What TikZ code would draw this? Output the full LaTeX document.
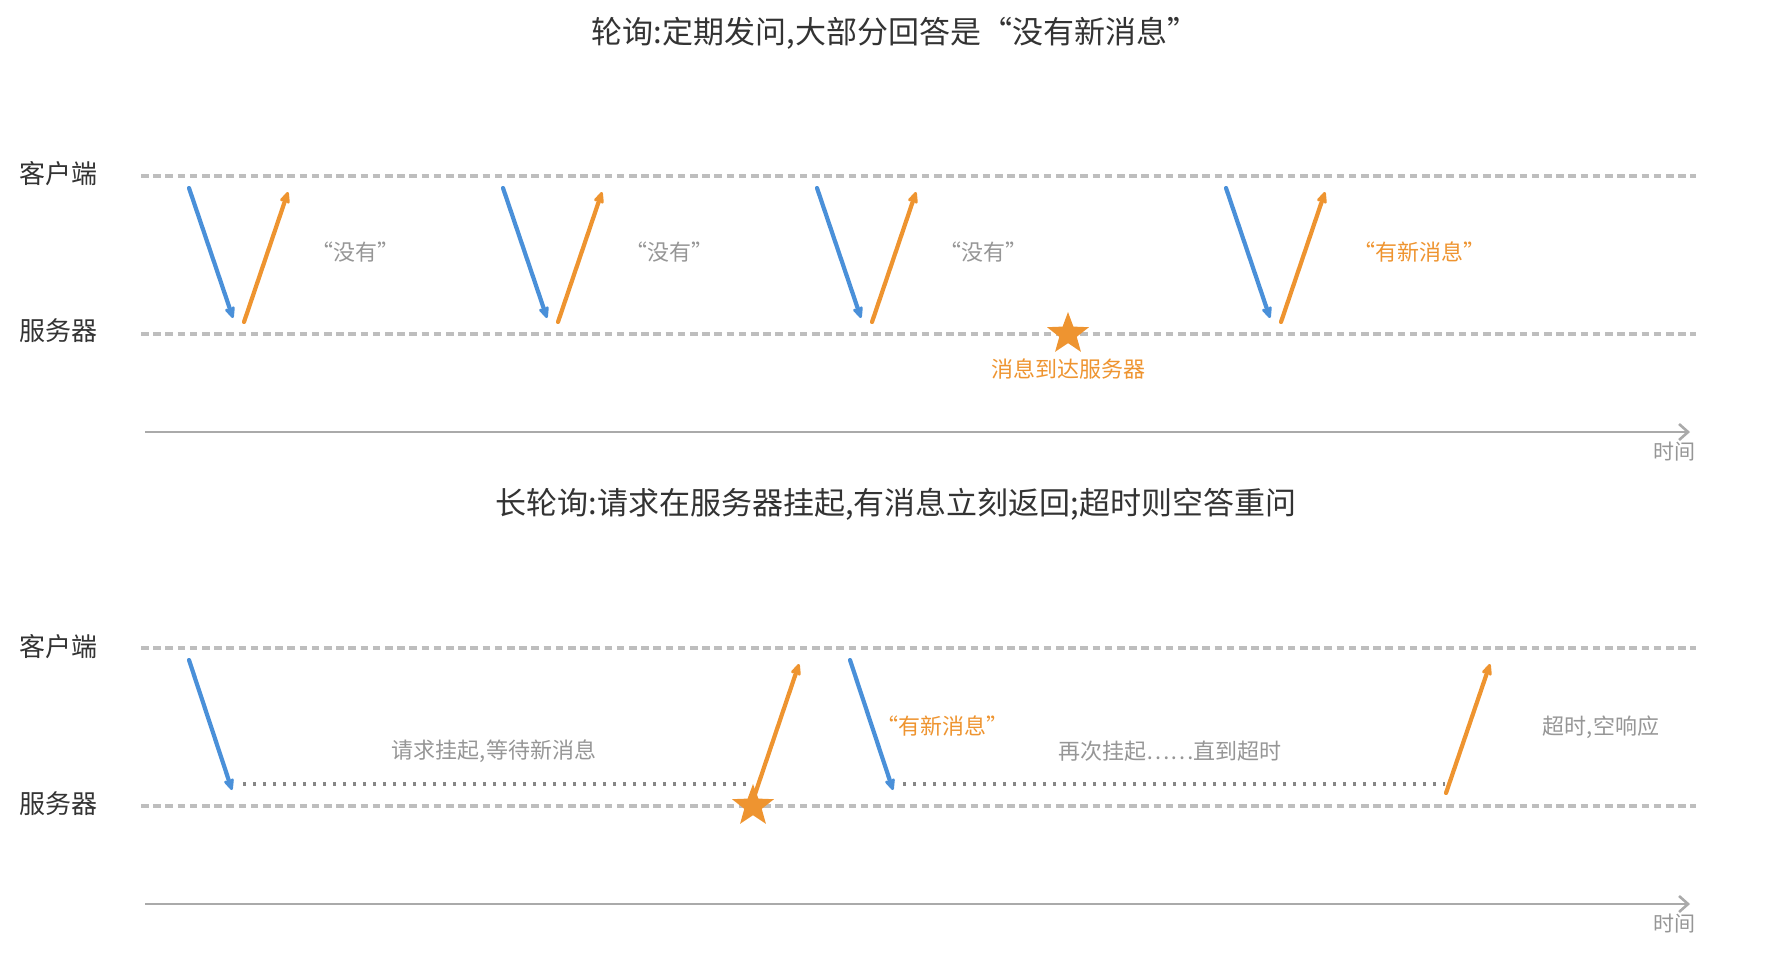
\documentclass[tikz,border=0pt]{standalone}
\usepackage{fontspec}
\setmainfont{Noto Sans CJK SC}
\usepackage{xcolor}
\usetikzlibrary{arrows.meta,shapes.geometric,positioning}
\definecolor{reqblue}{RGB}{74,144,217}
\definecolor{resporange}{RGB}{238,148,48}
\definecolor{lanegray}{RGB}{190,190,190}
\definecolor{notegray}{RGB}{150,150,150}
\definecolor{holdgray}{RGB}{135,135,135}
\definecolor{axisgray}{RGB}{170,170,170}
\definecolor{darktext}{RGB}{51,51,51}

\begin{document}
\begin{tikzpicture}[
    x=0.5pt,
    y=-0.5pt,
    font=\fontsize{11pt}{13pt}\selectfont,
    title/.style={
		font=\fontsize{15.5pt}{18pt}\selectfont,
		text=darktext
	},
	side/.style={
		font=\fontsize{13pt}{16pt}\selectfont,
		text=darktext
	},
	note/.style={
		text=notegray
	},
	hot/.style={
		text=resporange
	},
	lane/.style={
		draw=lanegray,
		line width=1.6pt,
		dash pattern=on 3.8pt off 2.3pt
	},
	hold/.style={
		draw=holdgray,
		line width=2.2pt,
		dash pattern=on 1.7pt off 3.3pt
	},
	timeline/.style={
		draw=axisgray,
		line width=1.3pt,
		-{Straight Barb[length=4.5pt,width=8pt]}
	},
	req/.style={
		draw=reqblue,
		line width=2.1pt,
		line cap=round,
		-{Stealth[length=7.5pt,width=6.5pt,inset=2pt,round]}
	},
	resp/.style={
		draw=resporange,
		line width=2.1pt,
		line cap=round,
		-{Stealth[length=7.5pt,width=6.5pt,inset=2pt,round]}
	},
	arrive/.style={
		star,
		star points=5,
		star point ratio=2.4,
		minimum size=22pt,
		inner sep=0pt,
		fill=resporange
	},
	timelabel/.style={
		font=\fontsize{10.5pt}{12pt}\selectfont,
		text=notegray,
		anchor=north east
	}
  ]
\useasboundingbox (0,0) rectangle (1776,953);

% // Polling
\node [title] (pollTitle) at (895,33) {轮询:定期发问,大部分回答是“没有新消息”};
\node [side] (pollClient) at (58,174) {客户端};
\node [side] (pollServer) at (58,331) {服务器};
\coordinate (pcL) at (141,176);
\coordinate (pcR) at (1696,176);
\coordinate (psL) at (141,334);
\coordinate (psR) at (1696,334);
\draw [lane] (pcL) -- (pcR);
\draw [lane] (psL) -- (psR);

% round 1
\coordinate (ask1) at (189,188);
\coordinate (got1) at (233,318);
\coordinate (ans1) at (244,322);
\coordinate (back1) at (288,192);
\draw [req] (ask1) -- (got1);
\draw [resp] (ans1) -- (back1);
\node [note] (none1) at (355,252) {“没有”};

% round 2
\coordinate (ask2) at (503,188);
\coordinate (got2) at (547,318);
\coordinate (ans2) at (558,322);
\coordinate (back2) at (602,192);
\draw [req] (ask2) -- (got2);
\draw [resp] (ans2) -- (back2);
\node [note] (none2) at (669,252) {“没有”};

% round 3
\coordinate (ask3) at (817,188);
\coordinate (got3) at (861,318);
\coordinate (ans3) at (872,322);
\coordinate (back3) at (916,192);
\draw [req] (ask3) -- (got3);
\draw [resp] (ans3) -- (back3);
\node [note] (none3) at (983,252) {“没有”};

% message arrives
\node [arrive] (msgStar) at (1068,334) {};
\node [hot, below=4pt of msgStar] (msgText) {消息到达服务器};

% round 4
\coordinate (ask4) at (1226,188);
\coordinate (got4) at (1270,318);
\coordinate (ans4) at (1281,322);
\coordinate (back4) at (1325,192);
\draw [req] (ask4) -- (got4);
\draw [resp] (ans4) -- (back4);
\node [hot] (news4) at (1419,252) {“有新消息”};

\coordinate (pt0) at (145,432);
\coordinate (pt1) at (1690,432);
\draw [timeline] (pt0) -- (pt1);
\node [timelabel] (pollTime) at (1703,435) {时间};

% // Long polling
\node [title] (longTitle) at (896,504) {长轮询:请求在服务器挂起,有消息立刻返回;超时则空答重问};
\node [side] (longClient) at (58,647) {客户端};
\node [side] (longServer) at (58,804) {服务器};
\coordinate (lcL) at (141,648);
\coordinate (lcR) at (1696,648);
\coordinate (lsL) at (141,806);
\coordinate (lsR) at (1696,806);
\draw [lane] (lcL) -- (lcR);
\draw [lane] (lsL) -- (lsR);

% first request, held
\coordinate (lask1) at (189,660);
\coordinate (lgot1) at (232,790);
\coordinate (wait1a) at (243,784);
\coordinate (wait1b) at (752,784);
\draw [req] (lask1) -- (lgot1);
\draw [hold] (wait1a) -- (wait1b);
\node [note] (waitText) at (494,751) {请求挂起,等待新消息};
\coordinate (lans1) at (753,800);
\coordinate (lback1) at (799,664);
\draw [resp] (lans1) -- (lback1);
\node [arrive] (holdStar) at (753,806) {};

% second request, timeout
\coordinate (lask2) at (850,660);
\coordinate (lgot2) at (893,790);
\coordinate (wait2a) at (903,784);
\coordinate (wait2b) at (1445,784);
\draw [req] (lask2) -- (lgot2);
\draw [hold] (wait2a) -- (wait2b);
\node [hot] (newsL) at (942,726) {“有新消息”};
\node [note] (againText) at (1170,751) {再次挂起⋯⋯直到超时};
\coordinate (lans2) at (1446,793);
\coordinate (lback2) at (1490,664);
\draw [resp] (lans2) -- (lback2);
\node [note] (emptyText) at (1601,727) {超时,空响应};

\coordinate (lt0) at (145,904);
\coordinate (lt1) at (1690,904);
\draw [timeline] (lt0) -- (lt1);
\node [timelabel] (longTime) at (1703,907) {时间};

\end{tikzpicture}
\end{document}
